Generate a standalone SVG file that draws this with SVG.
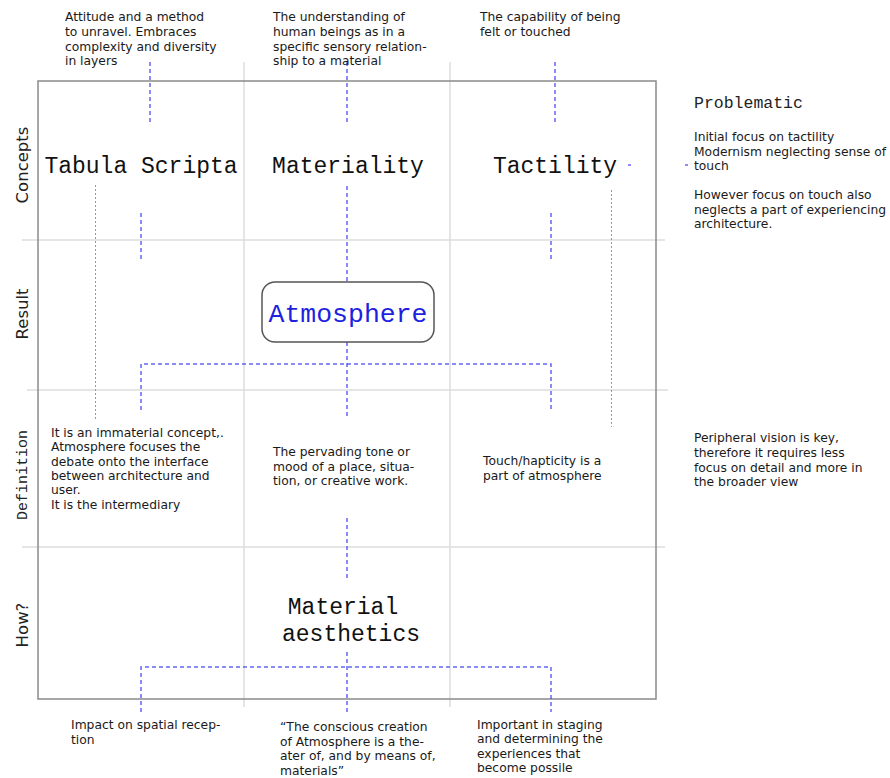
<svg xmlns="http://www.w3.org/2000/svg" width="890" height="778" viewBox="0 0 890 778">
<style>
.grid{stroke:#dcdcdc;stroke-width:1.5;fill:none}
.frame{stroke:#8a8a8a;stroke-width:1.5;fill:none}
.blue{stroke:#4a4af0;stroke-width:1.5;fill:none;stroke-dasharray:4 3;opacity:0.85}
.dot{stroke:#999;stroke-width:1;fill:none;stroke-dasharray:2 2}
.body{font-family:"DejaVu Sans","Liberation Sans",sans-serif;font-size:12.3px;fill:#1a1a1a}
.title{font-family:"Liberation Mono","DejaVu Sans Mono",monospace;font-size:23px;fill:#111}
.row{font-family:"DejaVu Sans",sans-serif;font-size:16.5px;fill:#222}
.rowm{font-family:"Liberation Mono",monospace;font-size:15px;fill:#222}
</style>
<rect width="890" height="778" fill="#fff"/>
<g id="grid">
<line class="grid" x1="244" y1="62" x2="244" y2="707"/>
<line class="grid" x1="450" y1="62" x2="450" y2="707"/>
<line class="grid" x1="22" y1="240" x2="665" y2="240"/>
<line class="grid" x1="27" y1="390" x2="668" y2="390"/>
<line class="grid" x1="22" y1="547" x2="665" y2="547"/>
<rect class="frame" x="38" y="81" width="618" height="618"/>
</g>
<g id="connectors">
<line class="blue" x1="150" y1="62" x2="150" y2="124"/>
<line class="blue" x1="347" y1="62" x2="347" y2="124"/>
<line class="blue" x1="555" y1="62" x2="555" y2="124"/>
<line class="blue" x1="141" y1="213" x2="141" y2="260"/>
<line class="blue" x1="551" y1="213" x2="551" y2="260"/>
<line class="blue" x1="347" y1="186" x2="347" y2="282"/>
<line class="blue" x1="347" y1="342" x2="347" y2="418"/>
<path class="blue" d="M141 410 V364 H551 V410"/>
<line class="blue" x1="347" y1="518" x2="347" y2="580"/>
<line class="blue" x1="347" y1="652" x2="347" y2="712"/>
<path class="blue" d="M141 712 V667 H551 V712"/>
<line class="blue" x1="628" y1="165" x2="631" y2="165"/>
<line class="blue" x1="685" y1="165" x2="688" y2="165"/>
<line class="dot" x1="95.5" y1="185" x2="95.5" y2="421"/>
<line class="dot" x1="611.5" y1="190" x2="611.5" y2="427"/>
</g>
<g id="row-labels">
<text class="row" transform="translate(28 165) rotate(-90)" text-anchor="middle">Concepts</text>
<text class="row" transform="translate(28 314) rotate(-90)" text-anchor="middle">Result</text>
<text class="rowm" transform="translate(27 475) rotate(-90)" text-anchor="middle">Definition</text>
<text class="row" transform="translate(28 625) rotate(-90)" text-anchor="middle">How?</text>
</g>
<g id="tabula-scripta">
<text class="title" x="141" y="173" text-anchor="middle">Tabula Scripta</text>
</g>
<g id="materiality">
<text class="title" x="348" y="173" text-anchor="middle">Materiality</text>
</g>
<g id="tactility">
<text class="title" x="555" y="173" text-anchor="middle">Tactility</text>
</g>
<g id="atmosphere">
<rect x="262" y="282" width="172" height="60" rx="13" fill="#fff" stroke="#555" stroke-width="1.5"/>
<text x="348" y="322" text-anchor="middle" font-family="Liberation Mono,monospace" font-size="26.5" fill="#1f1fe0">Atmosphere</text>
</g>
<g id="material-aesthetics">
<text class="title" x="343" y="614" text-anchor="middle">Material</text>
<text class="title" x="351" y="641" text-anchor="middle">aesthetics</text>
</g>
<g id="top-notes" class="body">
<text x="65" y="21">Attitude and a method</text>
<text x="65" y="36">to unravel. Embraces</text>
<text x="65" y="51">complexity and diversity</text>
<text x="65" y="65">in layers</text>
<text x="273" y="21">The understanding of</text>
<text x="273" y="36">human beings as in a</text>
<text x="273" y="51">specific sensory relation-</text>
<text x="273" y="65">ship to a material</text>
<text x="480" y="21">The capability of being</text>
<text x="480" y="36">felt or touched</text>
</g>
<g id="problematic">
<text x="694" y="108" font-family="Liberation Mono,monospace" font-size="16.5" fill="#222">Problematic</text>
<g class="body">
<text x="694" y="141">Initial focus on tactility</text>
<text x="694" y="156">Modernism neglecting sense of</text>
<text x="694" y="170">touch</text>
<text x="694" y="199">However focus on touch also</text>
<text x="694" y="214">neglects a part of experiencing</text>
<text x="694" y="228">architecture.</text>
</g>
</g>
<g id="definition-notes" class="body">
<text x="51" y="437">It is an immaterial concept,.</text>
<text x="51" y="451">Atmosphere focuses the</text>
<text x="51" y="466">debate onto the interface</text>
<text x="51" y="480">between architecture and</text>
<text x="51" y="494">user.</text>
<text x="51" y="509">It is the intermediary</text>
<text x="273" y="456">The pervading tone or</text>
<text x="273" y="471">mood of a place, situa-</text>
<text x="273" y="485">tion, or creative work.</text>
<text x="483" y="465">Touch/hapticity is a</text>
<text x="483" y="480">part of atmosphere</text>
<text x="694" y="442">Peripheral vision is key,</text>
<text x="694" y="457">therefore it requires less</text>
<text x="694" y="472">focus on detail and more in</text>
<text x="694" y="486">the broader view</text>
</g>
<g id="bottom-notes" class="body">
<text x="71" y="729">Impact on spatial recep-</text>
<text x="71" y="744">tion</text>
<text x="280" y="731">“The conscious creation</text>
<text x="280" y="746">of Atmosphere is a the-</text>
<text x="280" y="760">ater of, and by means of,</text>
<text x="280" y="775">materials”</text>
<text x="477" y="729">Important in staging</text>
<text x="477" y="743">and determining the</text>
<text x="477" y="758">experiences that</text>
<text x="477" y="772">become possile</text>
</g>
</svg>
